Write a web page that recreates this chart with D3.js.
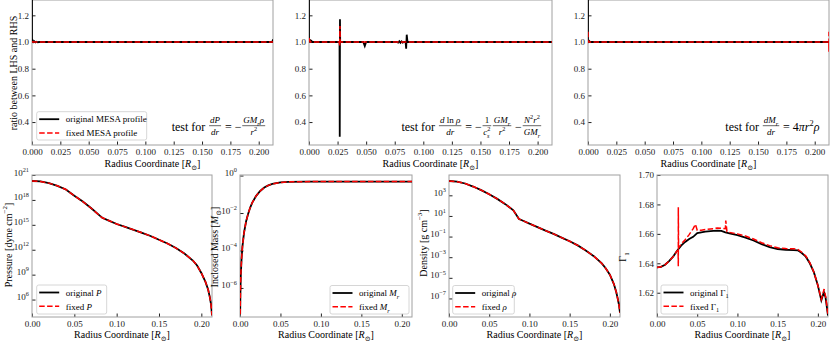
<!DOCTYPE html>
<html>
<head>
<meta charset="utf-8">
<script src="https://cdn.jsdelivr.net/npm/d3@7"></script>
<style>
  body { margin: 0; background: #fff; }
  svg { display: block; font-family: "Liberation Serif", "DejaVu Serif", serif; }
</style>
</head>
<body>
<div id="chart"></div>
<script>
// ---------- data ----------
const rMax = 0.2126;

// top row: ratio between LHS and RHS
const hydroOrigR   = [0, 0, 0.0006, 0.0012, 0.002, 0.003, 0.004, 0.005, 0.006, 0.212, 0.2126];
const hydroOrigV   = [1.32, 1.0, 1.012, 1.0, 1.006, 0.997, 1.002, 0.998, 1.0, 1.0, 1.02];
const hydroFixR    = [0, 0.001, 0.2126];
const hydroFixV    = [1.003, 1.0, 1.0];

const rhoGradOrigR = [0, 0, 0.0008, 0.002, 0.003, 0.005, 0.0267, 0.0269, 0.0271, 0.0273, 0.0475, 0.0488, 0.050,
                      0.077, 0.078, 0.079, 0.080, 0.081, 0.082, 0.083, 0.0845, 0.0850, 0.0855, 0.0862, 0.2126];
const rhoGradOrigV = [1.32, 1.0, 1.015, 1.01, 1.0, 1.0, 1.0, 0.29, 1.17, 1.0, 1.0, 0.97, 1.0,
                      1.0, 0.995, 1.006, 0.994, 1.005, 0.996, 1.0, 1.0, 0.95, 1.055, 1.0, 1.0];
const rhoGradFixR  = [0, 0.001, 0.0267, 0.0269, 0.0271, 0.0273, 0.2126];
const rhoGradFixV  = [1.03, 1.0, 1.0, 0.97, 1.12, 1.0, 1.0];

const massGradOrigR = [0, 0, 0.0008, 0.002, 0.2126];
const massGradOrigV = [1.32, 1.0, 1.01, 1.0, 1.0];
const massGradFixR  = [0, 0, 0.0006, 0.2125, 0.2126, 0.2126];
const massGradFixV  = [1.077, 1.0, 1.0, 1.0, 0.927, 1.077];

// bottom row: profiles
const presR = [0, 0.01, 0.02, 0.03, 0.04, 0.05, 0.06, 0.07, 0.08, 0.083, 0.09, 0.10, 0.11, 0.12, 0.13, 0.14,
               0.15, 0.16, 0.17, 0.18, 0.19, 0.195, 0.20, 0.205, 0.208, 0.21, 0.2115, 0.2126];
const presV = [1.9e20, 1.66e20, 1.05e20, 5.0e19, 1.8e19, 3.2e18, 6.3e17, 1.0e17, 1.26e16, 7.1e15, 3.5e15, 1.26e15,
               5.6e14, 2.5e14, 1.1e14, 4.5e13, 1.6e13, 5.6e12, 1.6e12, 3.5e11, 5.0e10, 1.26e10, 1.6e9, 1.26e8,
               1.6e7, 2.0e6, 2.5e5, 1.26e4];

const massR = [0.0002, 0.0005, 0.001, 0.002, 0.003, 0.005, 0.0075, 0.01, 0.0125, 0.015, 0.02, 0.025, 0.03,
               0.035, 0.04, 0.05, 0.06, 0.08, 0.10, 0.15, 0.2126];
const massV = [4.0e-8, 5.0e-7, 5.0e-6, 4.0e-5, 1.6e-4, 9.0e-4, 3.5e-3, 8.9e-3, 0.019, 0.035, 0.083, 0.15, 0.23,
               0.30, 0.36, 0.43, 0.46, 0.473, 0.478, 0.479, 0.479];

const densR = [0, 0.01, 0.02, 0.03, 0.04, 0.05, 0.06, 0.07, 0.08, 0.085, 0.087, 0.09, 0.10, 0.11, 0.12, 0.13,
               0.14, 0.15, 0.16, 0.17, 0.18, 0.19, 0.195, 0.20, 0.205, 0.208, 0.21, 0.2115, 0.2126];
const densV = [2.45e4, 2.1e4, 1.4e4, 7.1e3, 3.2e3, 1.26e3, 450, 140, 35, 8.9, 5.0, 4.0, 1.8, 0.83, 0.38, 0.18,
               0.079, 0.035, 0.014, 4.5e-3, 1.26e-3, 2.5e-4, 7.9e-5, 2.0e-5, 2.5e-6, 4.0e-7, 7.9e-8, 2.0e-8, 4.0e-9];

const gamOrigR = [0, 0.005, 0.01, 0.015, 0.02, 0.025, 0.03, 0.035, 0.04, 0.045, 0.05, 0.055, 0.06, 0.07, 0.075,
                  0.08, 0.085, 0.09, 0.10, 0.11, 0.12, 0.13, 0.14, 0.15, 0.16, 0.17, 0.175, 0.18, 0.185, 0.19,
                  0.195, 0.20, 0.2043, 0.2075, 0.2095, 0.2126];
const gamOrigV = [1.6372, 1.6376, 1.639, 1.6415, 1.6445, 1.6485, 1.652, 1.6545, 1.6565, 1.658, 1.6605, 1.661,
                  1.6615, 1.662, 1.6622, 1.662, 1.661, 1.6603, 1.6592, 1.6575, 1.6555, 1.653, 1.651, 1.6497,
                  1.6492, 1.649, 1.6488, 1.647, 1.6445, 1.640, 1.634, 1.625, 1.6148, 1.6205, 1.617, 1.6045];
const gamFixR  = [0, 0.005, 0.01, 0.015, 0.02, 0.025, 0.0262, 0.0265, 0.0265, 0.0268, 0.03, 0.035, 0.04, 0.045,
                  0.0478, 0.05, 0.055, 0.06, 0.07, 0.075, 0.08, 0.085, 0.0855, 0.087, 0.09, 0.10, 0.11, 0.12,
                  0.13, 0.14, 0.15, 0.16, 0.17, 0.175, 0.18, 0.185, 0.19, 0.195, 0.20, 0.2043, 0.2078, 0.2098, 0.2126];
const gamFixV  = [1.6372, 1.6376, 1.639, 1.6415, 1.6445, 1.6485, 1.649, 1.638, 1.678, 1.6505, 1.653, 1.656,
                  1.6595, 1.6635, 1.6665, 1.6625, 1.6625, 1.663, 1.6635, 1.664, 1.6638, 1.6635, 1.669, 1.6615,
                  1.661, 1.66, 1.6585, 1.6565, 1.654, 1.652, 1.6505, 1.65, 1.6498, 1.6495, 1.6475, 1.645,
                  1.6405, 1.634, 1.625, 1.6155, 1.6225, 1.617, 1.605];

const topXTicks = [0, 0.025, 0.05, 0.075, 0.1, 0.125, 0.15, 0.175, 0.2];
const botXTicks = [0, 0.05, 0.1, 0.15, 0.2];
const ratioTicks = [0.4, 0.6, 0.8, 1.0, 1.2];
const presTicks = [1e6, 1e9, 1e12, 1e15, 1e18, 1e21];
const massTicks = [1e-6, 1e-4, 1e-2, 1];
const densTicks = [1e-7, 1e-5, 1e-3, 1e-1, 1e1, 1e3];
const gamTicks = [1.62, 1.64, 1.66, 1.68, 1.70];

// ---------- drawing ----------
const width = 831, height = 342;
const svg = d3.select("#chart").append("svg")
    .attr("width", width)
    .attr("height", height);

const fs = 9;
const black = "#000", red = "#ff0000";

// text with italic / sub / sup pieces: [text, style, dx]
function rich(sel, segs, size) {
    let off = 0;
    segs.forEach(([t, st = "", dx = 0]) => {
        const sub = st.includes("_"), sup = st.includes("^");
        const shift = sub ? size * 0.3 : sup ? -size * 0.42 : 0;
        sel.append("tspan")
            .attr("dy", shift - off)
            .attr("dx", dx)
            .attr("font-size", sub || sup ? size * 0.7 : size)
            .attr("font-style", st.includes("i") ? "italic" : "normal")
            .text(t);
        off = shift;
    });
    return sel;
}

function expLabel(d) {
    const e = Math.round(Math.log10(d));
    return [["10"], [String(e).replace("-", "\u2212"), "^"]];
}

let clipN = 0;
function makePanel({ x0, x1, y0, y1, y, xTicks, xFmt, yTicks, yFmt, log }) {
    const x = d3.scaleLinear().domain([0, rMax]).range([x0, x1]);
    y.range([y1, y0]);
    const g = svg.append("g");
    const id = "clip" + (clipN++);
    g.append("clipPath").attr("id", id)
        .append("rect").attr("x", x0).attr("y", y0).attr("width", x1 - x0).attr("height", y1 - y0);

    const ax = g.append("g")
        .attr("transform", `translate(0,${y1})`)
        .call(d3.axisBottom(x).tickValues(xTicks).tickFormat(d3.format(xFmt))
            .tickSizeInner(-3.5).tickSizeOuter(0).tickPadding(4));
    const ay = g.append("g")
        .attr("transform", `translate(${x0},0)`)
        .call(d3.axisLeft(y).tickValues(yTicks)
            .tickFormat(log ? "" : d3.format(yFmt))
            .tickSizeInner(-3.5).tickSizeOuter(0).tickPadding(3));
    [ax, ay].forEach(a => {
        a.select(".domain").remove();
        a.attr("font-size", fs).attr("font-family", null).style("color", "#222");
    });
    if (log) {
        ay.selectAll(".tick text").each(function (d) {
            rich(d3.select(this), expLabel(d), fs);
        });
    }

    g.append("rect")
        .attr("x", x0).attr("y", y0)
        .attr("width", x1 - x0).attr("height", y1 - y0)
        .attr("fill", "none").attr("stroke", "#a0a0a0").attr("stroke-width", 1);

    const plot = g.append("g").attr("clip-path", `url(#${id})`);
    return { g, plot, x, y };
}

function drawPair(p, oR, oV, fR, fV) {
    const line = d3.line().x(d => p.x(d[0])).y(d => p.y(d[1]));
    p.plot.append("path")
        .datum(d3.zip(oR, oV))
        .attr("fill", "none").attr("stroke", black).attr("stroke-width", 1.8)
        .attr("d", line);
    p.plot.append("path")
        .datum(d3.zip(fR, fV))
        .attr("fill", "none").attr("stroke", red).attr("stroke-width", 1.5)
        .attr("stroke-dasharray", "5.5,2.4")
        .attr("d", line);
}

function legend(g, bx, by, bw, bh, labels) {
    g.append("rect")
        .attr("x", bx).attr("y", by).attr("width", bw).attr("height", bh)
        .attr("rx", 2).attr("fill", "#fff").attr("fill-opacity", 0.85)
        .attr("stroke", "#cccccc").attr("stroke-width", 0.8);
    const rows = [by + 7.5, by + 21.3];
    labels.forEach((lab, i) => {
        const ln = g.append("line")
            .attr("x1", bx + 2.5).attr("x2", bx + 22.5)
            .attr("y1", rows[i]).attr("y2", rows[i])
            .attr("stroke", i ? red : black)
            .attr("stroke-width", i ? 1.5 : 1.8);
        if (i) ln.attr("stroke-dasharray", "5.5,2.4");
        rich(g.append("text").attr("x", bx + 29).attr("y", rows[i] + 3.2).attr("font-size", fs), lab, fs);
    });
}

function xLabel(g, cx, yb) {
    rich(g.append("text").attr("x", cx).attr("y", yb).attr("text-anchor", "middle").attr("font-size", 10),
        [["Radius Coordinate ["], ["R", "i"], ["\u2299", "_"], ["]"]], 10);
}

function yLabel(g, cx, cy, segs) {
    rich(g.append("text")
        .attr("transform", `translate(${cx},${cy}) rotate(-90)`)
        .attr("text-anchor", "middle").attr("y", 3.5)
        .attr("font-size", 10), segs, 10);
}

// equation annotation: pieces are {t: segs} or {frac: [num, den]}
function mathNote(g, xRight, yBase, pieces) {
    const big = 12, small = 9;
    const grp = g.append("g");
    let cx = 0;
    pieces.forEach(p => {
        if (p.frac) {
            const num = rich(grp.append("text").attr("font-size", small).attr("text-anchor", "middle"), p.frac[0], small);
            const den = rich(grp.append("text").attr("font-size", small).attr("text-anchor", "middle"), p.frac[1], small);
            const w = Math.max(num.node().getBBox().width, den.node().getBBox().width) + 1.5;
            const mid = cx + w / 2 + 0.8;
            num.attr("x", mid).attr("y", yBase - 7.8);
            den.attr("x", mid).attr("y", yBase + 4);
            grp.append("line")
                .attr("x1", cx + 0.8).attr("x2", cx + w + 0.8)
                .attr("y1", yBase - 5.3).attr("y2", yBase - 5.3)
                .attr("stroke", "#000").attr("stroke-width", 0.6);
            cx += w + 1.6;
        } else {
            const t = rich(grp.append("text").attr("x", cx).attr("y", yBase).attr("font-size", big)
                .style("white-space", "pre"), p.t, big);
            cx += t.node().getComputedTextLength();
        }
    });
    grp.attr("transform", `translate(${xRight - cx},0)`);
}

// ---------- top row ----------
const topCfg = { y0: 0, y1: 145, xTicks: topXTicks, xFmt: ".3f", yTicks: ratioTicks, yFmt: ".1f" };
const p1 = makePanel({ ...topCfg, x0: 32, x1: 273, y: d3.scaleLinear().domain([0.228, 1.315]) });
const p2 = makePanel({ ...topCfg, x0: 309, x1: 552, y: d3.scaleLinear().domain([0.228, 1.315]) });
const p3 = makePanel({ ...topCfg, x0: 588, x1: 829, y: d3.scaleLinear().domain([0.228, 1.315]) });

drawPair(p1, hydroOrigR, hydroOrigV, hydroFixR, hydroFixV);
drawPair(p2, rhoGradOrigR, rhoGradOrigV, rhoGradFixR, rhoGradFixV);
drawPair(p3, massGradOrigR, massGradOrigV, massGradFixR, massGradFixV);

[[p1, 152.5], [p2, 430.5], [p3, 708.5]].forEach(([p, cx]) => xLabel(p.g, cx, 166.5));
yLabel(p1.g, 13, 73, [["ratio between LHS and RHS"]]);
legend(p1.g, 36.7, 111.7, 110, 28.3, [[["original MESA profile"]], [["fixed MESA profile"]]]);

mathNote(p1.g, 266, 131, [
    { t: [["test for "]] },
    { frac: [[["d", "i"], ["P", "i"]], [["d", "i"], ["r", "i"]]] },
    { t: [[" = \u2212"]] },
    { frac: [[["GM", "i"], ["r", "_i"], ["\u03c1", "i"]], [["r", "i"], ["2", "^"]]] }
]);
mathNote(p2.g, 542, 131, [
    { t: [["test for "]] },
    { frac: [[["d", "i"], [" ln "], ["\u03c1", "i"]], [["d", "i"], ["r", "i"]]] },
    { t: [[" = \u2212"]] },
    { frac: [[["1"]], [["c", "i"], ["2", "^"], ["s", "_i", -3.5]]] },
    { frac: [[["GM", "i"], ["r", "_i"]], [["r", "i"], ["2", "^"]]] },
    { t: [[" \u2212"]] },
    { frac: [[["N", "i"], ["2", "^"], ["r", "i"], ["2", "^"]], [["GM", "i"], ["r", "_i"]]] }
]);
mathNote(p3.g, 819.5, 131, [
    { t: [["test for "]] },
    { frac: [[["dM", "i"], ["r", "_i"]], [["d", "i"], ["r", "i"]]] },
    { t: [[" = 4"], ["\u03c0r", "i"], ["2", "^"], ["\u03c1", "i"]] }
]);

// ---------- bottom row ----------
const botCfg = { y0: 175, y1: 317, xTicks: botXTicks, xFmt: ".2f", log: true };
const p4 = makePanel({ ...botCfg, x0: 32, x1: 212, y: d3.scaleLog().domain([10 ** 3.9, 1e21]), yTicks: presTicks });
const p5 = makePanel({ ...botCfg, x0: 240, x1: 412, y: d3.scaleLog().domain([10 ** -7.55, 10 ** 0.03]), yTicks: massTicks });
const p6 = makePanel({ ...botCfg, x0: 449, x1: 620, y: d3.scaleLog().domain([10 ** -8.8, 10 ** 4.97]), yTicks: densTicks });
const p7 = makePanel({ ...botCfg, log: false, yFmt: ".2f", x0: 657, x1: 828,
    y: d3.scaleLinear().domain([1.6035, 1.70]), yTicks: gamTicks });

drawPair(p4, presR, presV, presR, presV);
drawPair(p5, massR, massV, massR, massV);
drawPair(p6, densR, densV, densR, densV);
drawPair(p7, gamOrigR, gamOrigV, gamFixR, gamFixV);

[[p4, 122], [p5, 326], [p6, 534.5], [p7, 742.5]].forEach(([p, cx]) => xLabel(p.g, cx, 338));
yLabel(p4.g, 8, 245, [["Pressure [dyne cm"], ["\u22122", "^"], ["]"]]);
yLabel(p5.g, 214, 247, [["Inclosed Mass ["], ["M", "i"], ["\u2299", "_"], ["]"]]);
yLabel(p6.g, 423, 243, [["Density [g cm"], ["\u22123", "^"], ["]"]]);
yLabel(p7.g, 622, 257, [["\u0393"], ["1", "_"]]);

legend(p4.g, 36.7, 285, 70, 29, [[["original "], ["P", "i"]], [["fixed "], ["P", "i"]]]);
legend(p5.g, 330, 285.5, 79, 28.5, [[["original "], ["M", "i"], ["r", "_i"]], [["fixed "], ["M", "i"], ["r", "_i"]]]);
legend(p6.g, 452.7, 285.5, 61.6, 28.5, [[["original "], ["\u03c1", "i"]], [["fixed "], ["\u03c1", "i"]]]);
legend(p7.g, 661, 285, 66.7, 29, [[["original \u0393"], ["1", "_"]], [["fixed \u0393"], ["1", "_"]]]);
</script>
</body>
</html>
